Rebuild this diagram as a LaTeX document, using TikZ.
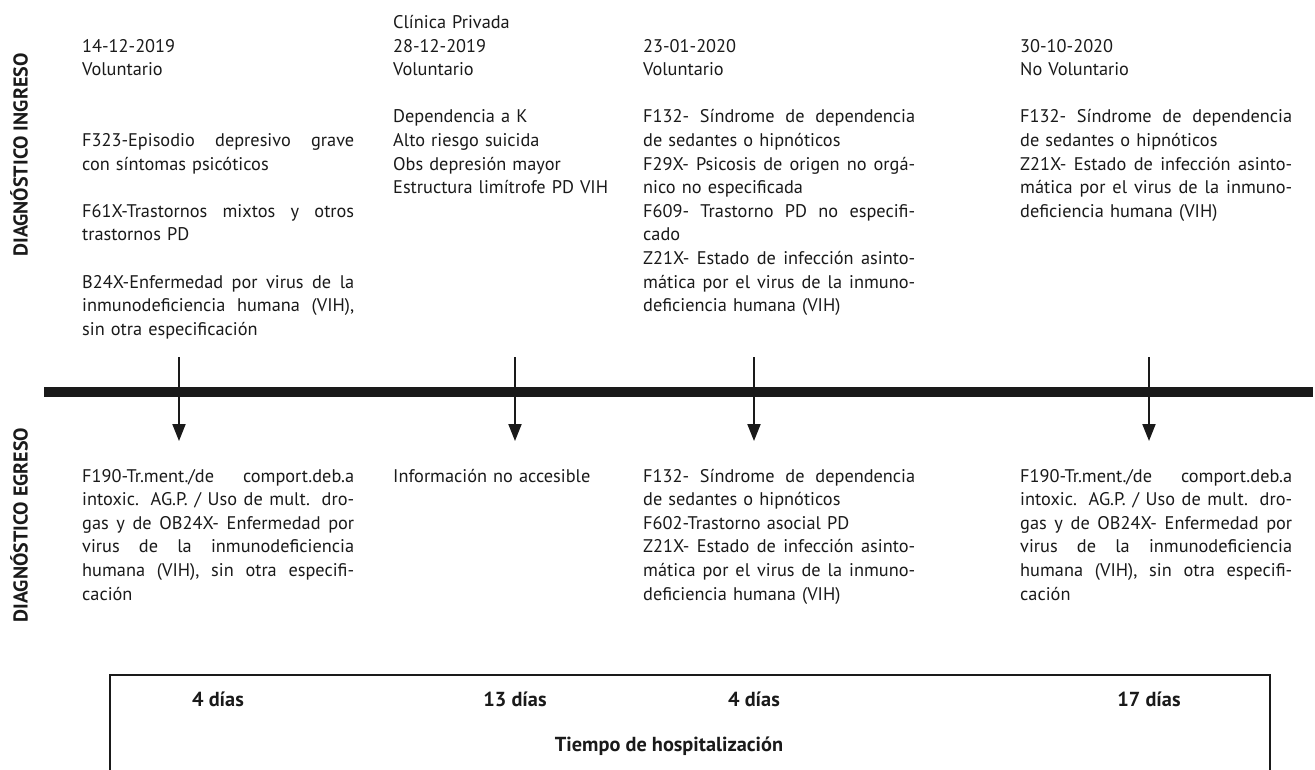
\documentclass[tikz,border=0pt]{standalone}
\usepackage{fontspec}
\setmainfont{PT Sans}
\usetikzlibrary{arrows.meta}
\newlength{\colw}\setlength{\colw}{272pt}
\newcommand{\jl}[1]{{\spaceskip=0pt\xspaceskip=0pt\makebox[\colw][s]{#1}}}
\definecolor{ink}{HTML}{1A1A1A}
\begin{document}
\begin{tikzpicture}[x=1pt,y=-1pt,
  col/.style={anchor=base west,inner sep=0pt,text width=\colw,align=left,
    font=\fontsize{18.3}{23.6}\selectfont,text=ink},
  side/.style={anchor=base,inner sep=0pt,rotate=90,font=\fontsize{20}{24}\selectfont\bfseries,text=ink},
  dias/.style={anchor=base,inner sep=0pt,font=\fontsize{20.3}{24}\selectfont\bfseries,text=ink},
  tick/.style={line width=2pt,draw=ink,-{Triangle[width=13pt,length=17pt]}},
  axis/.style={line width=10pt,draw=ink},
  frame/.style={line width=2pt,draw=ink}]
\clip (0,0) rectangle (1315,769);
\fill[white] (0,0) rectangle (1315,769);
% side labels
\node[side] (lin) at (27.5,155) {DIAGNÓSTICO INGRESO};
\node[side] (leg) at (27.5,525) {DIAGNÓSTICO EGRESO};
% top columns
\node[col] (t1) at (82,52) {14-12-2019\\ Voluntario\\[47.2pt]
 \jl{F323-Episodio depresivo grave}\\ con síntomas psicóticos\\[23.6pt]
 \jl{F61X-Trastornos mixtos y otros}\\ trastornos PD\\[23.6pt]
 \jl{B24X-Enfermedad por virus de la}\\ \jl{inmunodeficiencia humana (VIH),}\\ sin otra especificación};
\node[col] (t2) at (393,28.4) {Clínica Privada\\ 28-12-2019\\ Voluntario\\[23.6pt]
 Dependencia a K\\ Alto riesgo suicida\\ Obs depresión mayor\\ Estructura limítrofe PD VIH};
\node[col] (t3) at (643,52) {23-01-2020\\ Voluntario\\[23.6pt]
 \jl{F132- Síndrome de dependencia}\\ de sedantes o hipnóticos\\
 \jl{F29X- Psicosis de origen no orgá-}\\ nico no especificada\\
 \jl{F609- Trastorno PD no especifi-}\\ cado\\
 \jl{Z21X- Estado de infección asinto-}\\ \jl{mática por el virus de la inmuno-}\\ deficiencia humana (VIH)};
\node[col] (t4) at (1020,52) {30-10-2020\\ No Voluntario\\[23.6pt]
 \jl{F132- Síndrome de dependencia}\\ de sedantes o hipnóticos\\
 \jl{Z21X- Estado de infección asinto-}\\ \jl{mática por el virus de la inmuno-}\\ deficiencia humana (VIH)};
% timeline
\coordinate (axL) at (44,392);
\coordinate (axR) at (1313,392);
\draw[axis] (axL) -- (axR);
% arrows
\foreach \i/\x in {1/179,2/515,3/754,4/1149}{
  \coordinate (s\i) at (\x,357);
  \coordinate (e\i) at (\x,441);
  \draw[tick] (s\i) -- (e\i);
}
% bottom columns
\node[col] (b1) at (82,482) {\jl{F190-Tr.ment./de comport.deb.a}\\
 \jl{intoxic. AG.P. / Uso de mult. dro-}\\ \jl{gas y de OB24X- Enfermedad por}\\
 \jl{virus de la inmunodeficiencia}\\ \jl{humana (VIH), sin otra especifi-}\\ cación};
\node[col] (b2) at (393,482) {Información no accesible};
\node[col] (b3) at (643,482) {\jl{F132- Síndrome de dependencia}\\ de sedantes o hipnóticos\\
 F602-Trastorno asocial PD\\
 \jl{Z21X- Estado de infección asinto-}\\ \jl{mática por el virus de la inmuno-}\\ deficiencia humana (VIH)};
\node[col] (b4) at (1020,482) {\jl{F190-Tr.ment./de comport.deb.a}\\
 \jl{intoxic. AG.P. / Uso de mult. dro-}\\ \jl{gas y de OB24X- Enfermedad por}\\
 \jl{virus de la inmunodeficiencia}\\ \jl{humana (VIH), sin otra especifi-}\\ cación};
% frame
\coordinate (fBL) at (110,780);
\coordinate (fTL) at (110,675);
\coordinate (fTR) at (1270,675);
\coordinate (fBR) at (1270,780);
\draw[frame] (fBL) -- (fTL) -- (fTR) -- (fBR);
\node[dias] (d1) at (218,706) {4 días};
\node[dias] (d2) at (515,706) {13 días};
\node[dias] (d3) at (754,706) {4 días};
\node[dias] (d4) at (1149,706) {17 días};
\node[dias] (th) at (669,751) {Tiempo de hospitalización};
\end{tikzpicture}
\end{document}
